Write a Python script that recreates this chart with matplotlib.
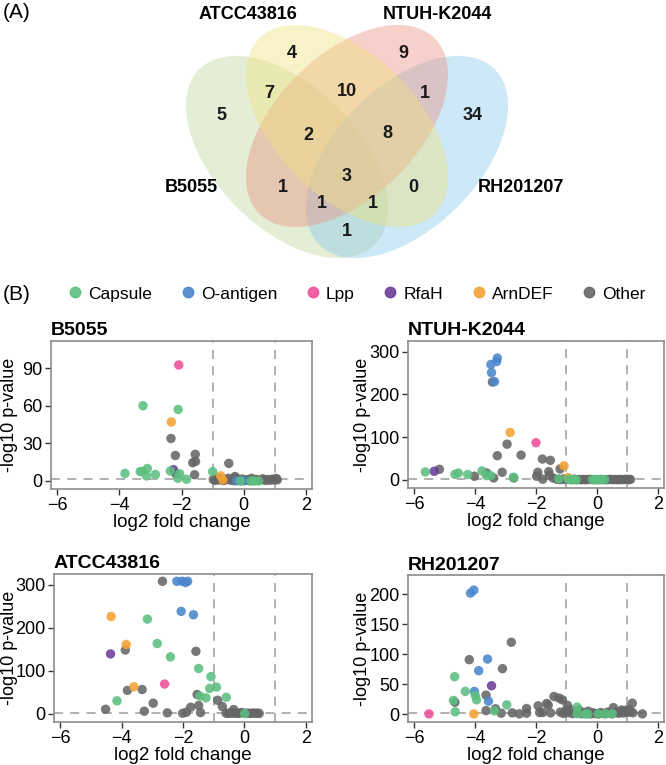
import matplotlib.pyplot as plt
from matplotlib.patches import Ellipse
from matplotlib.lines import Line2D

plt.rcParams['font.family'] = ['Liberation Sans', 'DejaVu Sans']

# Venn diagram data
set_names = ["B5055", "ATCC43816", "NTUH-K2044", "RH201207"]
set_colors = ["#bfd59b", "#efe27d", "#eb9181", "#89c9eb"]
# region counts: B, A, N, R, BA, AN, NR, BAN, ANR, BANR, BN, AR, BNR, BAR, BR
venn_counts = [5, 4, 9, 34, 7, 10, 1, 2, 8, 3, 1, 0, 1, 1, 1]

# volcano categories
categories = ["Capsule", "O-antigen", "Lpp", "RfaH", "ArnDEF", "Other"]
cat_colors = ["#5cbf80", "#4a86cc", "#f0509a", "#6a3d9a", "#f4a235", "#666666"]

B5055 = {
    "Other": ([-2.34, -2.2, -1.56, -1.64, -1.55, -1.58, -0.48, -2.19, -0.28, 1.03,
               -0.98, -0.92, -0.85, -0.8, -0.72, -0.65, -0.58, -0.5, -0.42, -0.35, -0.3,
               -0.25, -0.18, -0.1, -0.05, 0.05, 0.12, 0.18, 0.25, 0.32, 0.4, 0.45, 0.55,
               0.62, 0.7, 0.78, 0.85, 0.92, 0.98, 1.05, 1.08],
              [34, 20.4, 21.3, 14.6, 15.7, 5, 14.1, 5.8, 3.6, 1.4,
               1.2, 0.5, 2.0, 0.8, 1.5, 0.3, 1.0, 2.2, 0.6, 1.4, 0.2,
               2.5, 0.9, 0.4, 1.6, 0.7, 1.1, 0.3, 2.1, 0.8, 1.3, 0.5, 0.9,
               1.7, 0.4, 1.2, 0.6, 1.5, 0.8, 2.0, 0.9]),
    "Capsule": ([-3.24, -2.11, -3.82, -3.33, -3.26, -3.1, -3.13, -2.84, -2.36, -2.06, -2.12,
                 -1.84, -1.0, -0.11, 0.24, 0.34, 0.48],
                [60.2, 57.2, 6.1, 7.5, 7.5, 10, 4.1, 5.2, 8, 5.8, 2.2,
                 1.4, 7.5, 0, 0, 0, 0]),
    "O-antigen": ([-0.22, 0.0], [0.2, 0.1]),
    "Lpp": ([-2.09], [92.8]),
    "RfaH": ([-2.26], [9.1]),
    "ArnDEF": ([-2.33, -0.74, -0.67], [47.2, 4.1, 0.8]),
}

NTUH = {
    "Other": ([-3.43, -2.95, -3.27, -2.49, -1.79, -1.53, -1.21, -1.94, -1.98, -1.58, -1.56,
               -1.78, -1.43, -3.11, -2.73, -4.02, -3.62, -3.39, -5.17,
               -1.3, -1.2, -1.1, -1.02, -0.9, -0.82, -0.75, -0.68, -0.6, -0.52, -0.45, -0.38,
               -0.3, -0.22, -0.15, -0.05, 0.05, 0.12, 0.2, 0.3, 0.38, 0.45, 0.52, 0.6,
               0.68, 0.75, 0.82, 0.9, 0.98, 1.05, 1.1],
              [229, 83.5, 56.5, 58, 48.7, 45.6, 25.5, 17.8, 8.5, 19.3, 10,
               1.5, 4, 17.8, 4.6, 8.5, 16.2, 4.6, 24.7,
               1.0, 0.5, 2.0, 0.8, 1.2, 0.3, 1.5, 0.6, 0.9, 0.4, 1.1, 0.2,
               0.8, 1.3, 0.5, 0.7, 0.4, 1.0, 0.6, 0.3, 0.9, 1.2, 0.5, 0.8,
               0.4, 1.1, 0.6, 0.9, 1.4, 0.7, 1.0]),
    "Capsule": ([-5.63, -4.66, -4.55, -4.24, -3.77, -3.63, -3.49, -2.74, -1.25,
                 -0.94, -0.85, -0.76, -0.68, -0.15, -0.05, 0.05, 0.15, 0.25],
                [18.6, 13, 16, 12.4, 20.9, 10, 10, 6.2, 2.3,
                 1.0, 0.6, 0.9, 0.4, 0.7, 0.5, 0.9, 0.6, 0.8]),
    "O-antigen": ([-3.27, -3.29, -3.48, -3.46, -3.36], [285, 277, 270, 251, 230]),
    "Lpp": ([-2.0], [87]),
    "RfaH": ([-5.34], [20.1]),
    "ArnDEF": ([-2.85, -1.08, -0.95], [111, 33, 5.4]),
}

ATCC = {
    "Other": ([-2.67, -3.88, -1.58, -3.81, -3.33, -4.52, -2.97, -3.26, -2.51, -2.01, -1.89,
               -1.75, -1.49, -1.54, -1.43, -0.87, -0.72, -0.35,
               -0.6, -0.52, -0.45, -0.38, -0.3, -0.22, -0.15, -0.08, 0.05, 0.12, 0.2,
               0.28, 0.35, 0.42, 0.48],
              [308, 148, 145, 54, 56, 10, 24.2, 5.5, 1.6, 0.8, 3.1,
               14.8, 18.8, 44.5, 2.3, 31, 16.4, 9.4,
               1.0, 0.5, 2.0, 0.8, 1.5, 0.4, 1.2, 2.5, 0.7, 1.0, 0.3,
               1.4, 0.6, 1.1, 0.5]),
    "Capsule": ([-3.16, -2.84, -2.41, -1.49, -1.09, -1.13, -0.91, -4.15, -1.45, -1.25,
                 -0.59, 0.01],
                [220, 163, 132, 105, 86, 58.6, 61.7, 29.7, 40.6, 36.7,
                 38, 0]),
    "O-antigen": ([-2.2, -2.03, -1.92, -1.85, -2.06, -1.66], [308, 308, 305, 308, 238, 230]),
    "Lpp": ([-2.6], [68.8]),
    "RfaH": ([-4.36], [139]),
    "ArnDEF": ([-4.34, -3.85, -3.6], [226, 161, 62.5]),
}

RH = {
    "Other": ([-2.81, -4.19, -3.1, -4.66, -3.64, -3.64, -3.33, -3.14, -2.78, -2.55, -2.31,
               -2.31, -1.93, -1.88, -1.78, -1.65, -1.6, -1.41, -1.24, -1.14, -1.52, -0.97,
               0.54, 1.16, 1.49, 0.81, 1.03,
               -1.2, -1.1, -1.02, -0.95, -0.88, -0.8, -0.72, -0.65, -0.58, -0.5, -0.42,
               -0.35, -0.28, -0.2, -0.12, -0.05, 0.05, 0.12, 0.2, 0.28, 0.35, 0.42, 0.5,
               0.58, 0.65, 0.72, 0.8, 0.88, 0.95, 1.02, 1.1, 1.18],
              [120, 91, 76, 20, 31.8, 6, 9, 1.7, 2.2, 0.6, 9.5,
               1.7, 14, 2.8, 2.8, 17.9, 15, 29.6, 26.8, 24, 2.2, 15,
               11, 18.4, 0.5, 7, 8,
               3.5, 1.2, 6.0, 2.5, 8.0, 1.0, 4.5, 2.0, 6.5, 0.8, 3.0,
               1.5, 5.0, 0.6, 2.2, 1.0, 0.5, 2.8, 1.2, 0.8, 3.5, 1.8, 0.6,
               2.5, 4.0, 1.5, 5.5, 2.0, 6.0, 3.2, 4.8, 2.4]),
    "Capsule": ([-4.67, -4.32, -3.99, -3.95, -4.71, -2.96, -4.65, -3.36, -0.65,
                 -0.65, -0.38, -0.3, 0.04, 0.28, 0.5],
                [62.6, 38, 31.3, 24, 23, 15.6, 4, 5.6, 11.7,
                 1.0, 0.5, 0.3, 0.4, 0.6, 0.9]),
    "O-antigen": ([-4.04, -4.15, -3.59, -3.88, -4.02, -3.56], [207, 202, 92, 72.6, 38, 21.8]),
    "Lpp": ([-5.51], [0.5]),
    "RfaH": ([-3.46], [47.5]),
    "ArnDEF": ([-4.04], [0.5]),
}

panels = [
    ("B5055", B5055, [0.0766, 0.3608, 0.392, 0.1935], (-6.4, 112), [0, 30, 60, 90], -0.125),
    ("NTUH-K2044", NTUH, [0.6126, 0.3621, 0.3844, 0.1922], (-19, 325), [0, 100, 200, 300], -0.146),
    ("ATCC43816", ATCC, [0.0811, 0.0562, 0.3874, 0.1935], (-19.6, 325), [0, 100, 200, 300], -0.138),
    ("RH201207", RH, [0.6126, 0.0562, 0.3844, 0.192], (-13, 232), [0, 50, 100, 150, 200], -0.146),
]

fig = plt.figure(figsize=(6.66, 7.65), dpi=100)

# overlay in pixel coordinates for the Venn diagram
ax0 = fig.add_axes([0, 0, 1, 1])
ax0.set_xlim(0, 666)
ax0.set_ylim(765, 0)
ax0.axis('off')

ell_centers = [(287, 157), (347, 126), (347, 126), (407, 157)]
ell_angles = [45, 45, -45, -45]
ell_order = [1, 4, 3, 2]  # green at bottom, then blue, red, yellow on top
for (cx, cy), ang, col, zo in zip(ell_centers, ell_angles, set_colors, ell_order):
    ax0.add_patch(Ellipse((cx, cy), 248, 142, angle=ang, facecolor=col,
                          edgecolor='none', alpha=0.42, zorder=zo))

name_pos = [(191, 187), (248, 14), (437, 14), (521, 187)]
for name, (px, py) in zip(set_names, name_pos):
    ax0.text(px, py, name, ha='center', va='center', fontsize=13, fontweight='bold')

count_pos = [(221, 115), (292, 53), (403, 53), (473, 115), (269, 93), (347, 91),
             (425, 93), (308, 135), (387, 133), (347, 176), (283, 187), (413, 187),
             (322, 203), (373, 203), (347, 231)]
for n, (px, py) in zip(venn_counts, count_pos):
    ax0.text(px, py, str(n), ha='center', va='center', fontsize=13, fontweight='bold',
             color='#1a1a1a', zorder=6)

ax0.text(3, 12, "(A)", ha='left', va='center', fontsize=15)
ax0.text(3, 294, "(B)", ha='left', va='center', fontsize=15)

# legend
handles = [Line2D([], [], marker='o', ls='none', markersize=7.5, color=c, alpha=0.9)
           for c in cat_colors]
fig.legend(handles, categories, loc='center', bbox_to_anchor=(356 / 666, 1 - 294 / 765),
           ncol=6, frameon=False, fontsize=12.5, handletextpad=0.25, columnspacing=1.55,
           handlelength=1.0, borderaxespad=0)

for title, data, rect, ylim, yticks, ylab_x in panels:
    ax = fig.add_axes(rect)
    for cat, col in zip(categories[::-1], cat_colors[::-1]):
        xs, ys = data[cat]
        ax.scatter(xs, ys, s=46, color=col, alpha=0.88, edgecolors='none', zorder=3)
    ax.axhline(1.3, color='#aaaaaa', ls=(0, (5, 4)), lw=1.3, zorder=2)
    ax.axvline(-1, color='#aaaaaa', ls=(0, (5, 4)), lw=1.3, zorder=2)
    ax.axvline(1, color='#aaaaaa', ls=(0, (5, 4)), lw=1.3, zorder=2)
    ax.set_xlim(-6.2, 2.2)
    ax.set_ylim(*ylim)
    ax.set_xticks([-6, -4, -2, 0, 2])
    ax.set_yticks(yticks)
    ax.tick_params(labelsize=13, length=4, width=1, color='#333333', pad=2)
    for sp in ax.spines.values():
        sp.set_color('#8c8c8c')
        sp.set_linewidth(1.2)
    ax.set_xlabel("log2 fold change", fontsize=13.5, labelpad=0)
    ax.set_ylabel("-log10 p-value", fontsize=13)
    ax.yaxis.set_label_coords(ylab_x, 0.5)
    ax.set_title(title, loc='left', fontsize=14, fontweight='bold', pad=4)

fig.savefig("out.png", dpi=100)
